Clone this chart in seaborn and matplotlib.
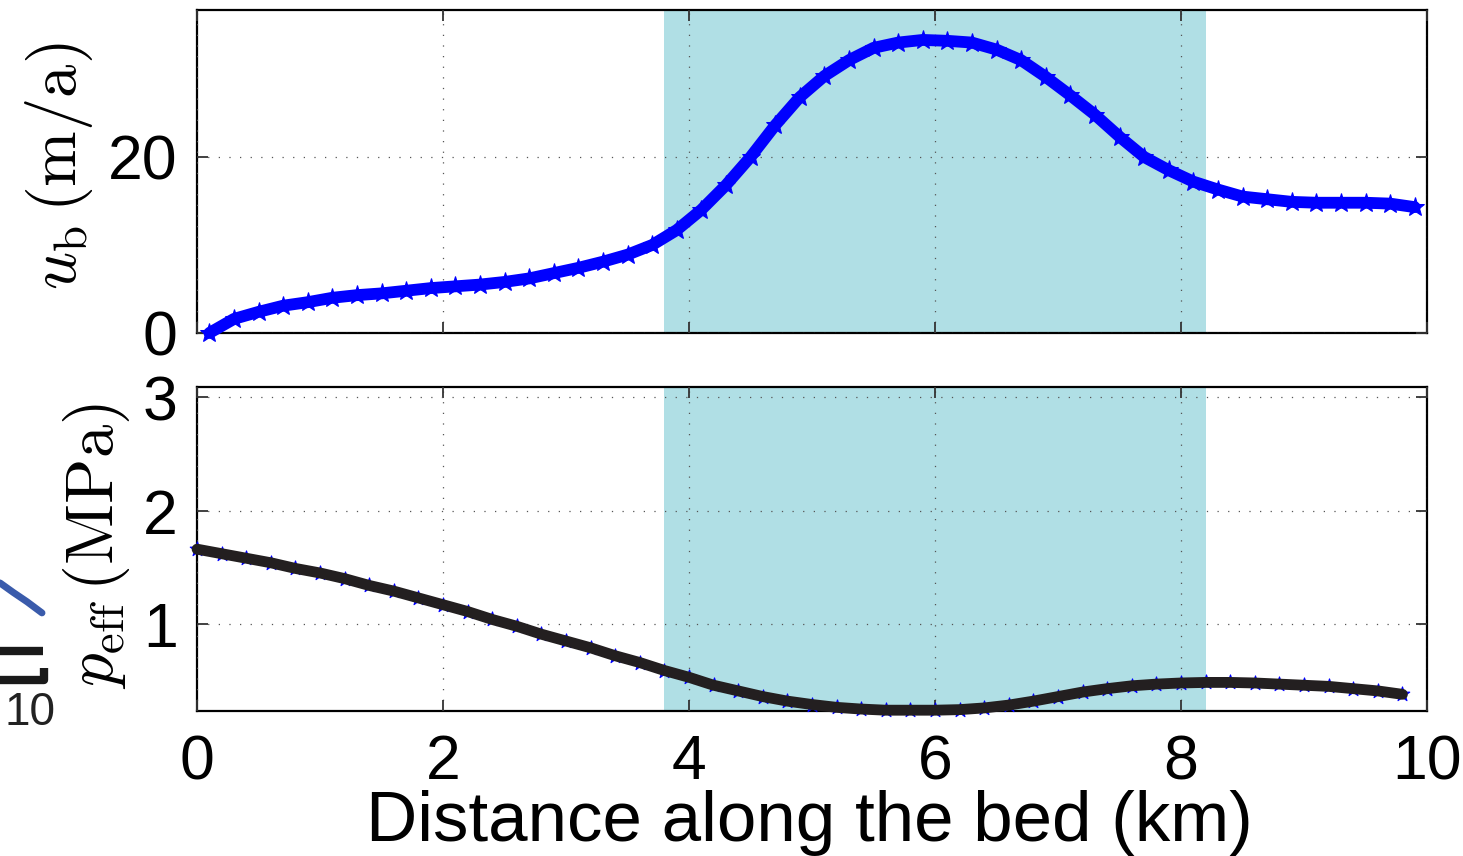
import numpy as np
import pandas as pd
import matplotlib
matplotlib.use("Agg")
import matplotlib.pyplot as plt
from matplotlib.lines import Line2D
import seaborn as sns

# sliding speed, points sit between the pressure nodes
dist_ub = [0.1, 0.3, 0.5, 0.7, 0.9, 1.1, 1.3, 1.5, 1.7, 1.9,
           2.1, 2.3, 2.5, 2.7, 2.9, 3.1, 3.3, 3.5, 3.7, 3.9,
           4.1, 4.3, 4.5, 4.7, 4.9, 5.1, 5.3, 5.5, 5.7, 5.9,
           6.1, 6.3, 6.5, 6.7, 6.9, 7.1, 7.3, 7.5, 7.7, 7.9,
           8.1, 8.3, 8.5, 8.7, 8.9, 9.1, 9.3, 9.5, 9.7, 9.9]
u_b = [0.0, 1.6, 2.4, 3.1, 3.5, 4.0, 4.3, 4.5, 4.8, 5.1,
       5.3, 5.5, 5.8, 6.2, 6.8, 7.4, 8.1, 8.9, 10.0, 11.7,
       14.0, 16.8, 20.0, 23.6, 26.8, 29.2, 31.0, 32.4, 33.0, 33.3,
       33.2, 33.0, 32.2, 31.0, 29.1, 27.0, 24.8, 22.3, 20.0, 18.5,
       17.2, 16.3, 15.5, 15.2, 14.9, 14.8, 14.8, 14.8, 14.7, 14.3]

# effective pressure
dist_p = [0.0, 0.2, 0.4, 0.6, 0.8, 1.0, 1.2, 1.4, 1.6, 1.8,
          2.0, 2.2, 2.4, 2.6, 2.8, 3.0, 3.2, 3.4, 3.6, 3.8,
          4.0, 4.2, 4.4, 4.6, 4.8, 5.0, 5.2, 5.4, 5.6, 5.8,
          6.0, 6.2, 6.4, 6.6, 6.8, 7.0, 7.2, 7.4, 7.6, 7.8,
          8.0, 8.2, 8.4, 8.6, 8.8, 9.0, 9.2, 9.4, 9.6, 9.8]
p_eff = [1.66, 1.62, 1.58, 1.54, 1.49, 1.45, 1.40, 1.34, 1.29, 1.23,
         1.17, 1.11, 1.04, 0.98, 0.91, 0.85, 0.79, 0.72, 0.66, 0.59,
         0.53, 0.46, 0.41, 0.36, 0.32, 0.29, 0.265, 0.25, 0.24, 0.24,
         0.24, 0.245, 0.26, 0.285, 0.32, 0.36, 0.40, 0.43, 0.455, 0.47,
         0.48, 0.485, 0.485, 0.48, 0.47, 0.46, 0.45, 0.43, 0.41, 0.38]

shade = (3.8, 8.2)
x_ticks = [0, 2, 4, 6, 8, 10]
ub_ticks = [0, 20]
p_ticks = [1, 2, 3]

df_u = pd.DataFrame({"x": dist_ub, "u": u_b})
df_p = pd.DataFrame({"x": dist_p, "p": p_eff})

sns.set_style("ticks")
plt.rcParams['font.family'] = ['Liberation Sans', 'DejaVu Sans']
plt.rcParams['mathtext.fontset'] = 'cm'
plt.rcParams['text.color'] = 'black'
plt.rcParams['axes.labelcolor'] = 'black'
plt.rcParams['xtick.labelcolor'] = 'black'
plt.rcParams['ytick.labelcolor'] = 'black'

fig = plt.figure(figsize=(14.63, 8.56), dpi=100)
ax1 = fig.add_axes([0.1347, 0.611, 0.8407, 0.3773])
ax2 = fig.add_axes([0.1347, 0.1694, 0.8407, 0.3785])

grid_kw = dict(color='#555555', linewidth=0.9, linestyle=(0, (1, 7.5)))

for ax in (ax1, ax2):
    ax.axvspan(shade[0], shade[1], color='#b0dfe5', lw=0, zorder=0)
    ax.set_axisbelow(False)
    ax.set_xlim(0, 10)
    ax.set_xticks(x_ticks)
    ax.grid(True, zorder=1, **grid_kw)
    ax.tick_params(direction='in', length=8, width=1.3, top=True, right=True,
                   labelsize=45, color='#333333')
    for s in ax.spines.values():
        s.set_linewidth(1.6)
        s.set_color('black')

# top panel
sns.lineplot(data=df_u, x="x", y="u", ax=ax1, color='#0000ff', lw=8.5,
             marker='*', markersize=14, markeredgecolor='#0000ff',
             sort=False, clip_on=False, zorder=3)
ax1.set_ylim(0, 36.7)
ax1.set_yticks(ub_ticks)
ax1.tick_params(axis='x', labelbottom=False)
ax1.tick_params(axis='y', pad=14)
ax1.set_xlabel("")
ax1.set_ylabel(r'$u_{\rm b}\,(\rm m/a)$', fontsize=48)
ax1.yaxis.set_label_coords(-0.083, 0.515)

# bottom panel
sns.scatterplot(data=df_p, x="x", y="p", ax=ax2, color='#0000ff', marker='*',
                s=120, linewidth=0.8, edgecolor='#0000ff', clip_on=False,
                zorder=3)
sns.lineplot(data=df_p, x="x", y="p", ax=ax2, color='#231f20', lw=7.8,
             sort=False, clip_on=False, zorder=4)
ax2.set_ylim(0.233, 3.09)
ax2.set_yticks(p_ticks)
ax2.tick_params(axis='y', pad=14)
ax2.tick_params(axis='x', pad=16)
ax2.set_ylabel(r'$p_{\rm eff}\,(\rm MPa)$', fontsize=48)
ax2.yaxis.set_label_coords(-0.053, 0.51)
ax2.set_xlabel("Distance along the bed (km)", fontsize=51)
ax2.xaxis.set_label_coords(0.498, -0.245)

# bits of the neighbouring panel that were cropped in on the left
fig.add_artist(Line2D([0.0, 0.009, 0.0185, 0.0287], [0.319, 0.308, 0.297, 0.284],
                      transform=fig.transFigure, color='#3a5bab', lw=5))
fig.add_artist(Line2D([0.0, 0.0294], [0.2395, 0.2395], transform=fig.transFigure,
                      color='#1a1a1a', lw=6, solid_capstyle='butt'))
fig.add_artist(Line2D([0.0, 0.0300, 0.0300], [0.2055, 0.2055, 0.2200],
                      transform=fig.transFigure, color='#1a1a1a', lw=6,
                      solid_capstyle='butt'))
fig.text(0.038, 0.167, "10", fontsize=33, ha='right', va='center', color='#222222')

fig.savefig("out.png", dpi=100)
